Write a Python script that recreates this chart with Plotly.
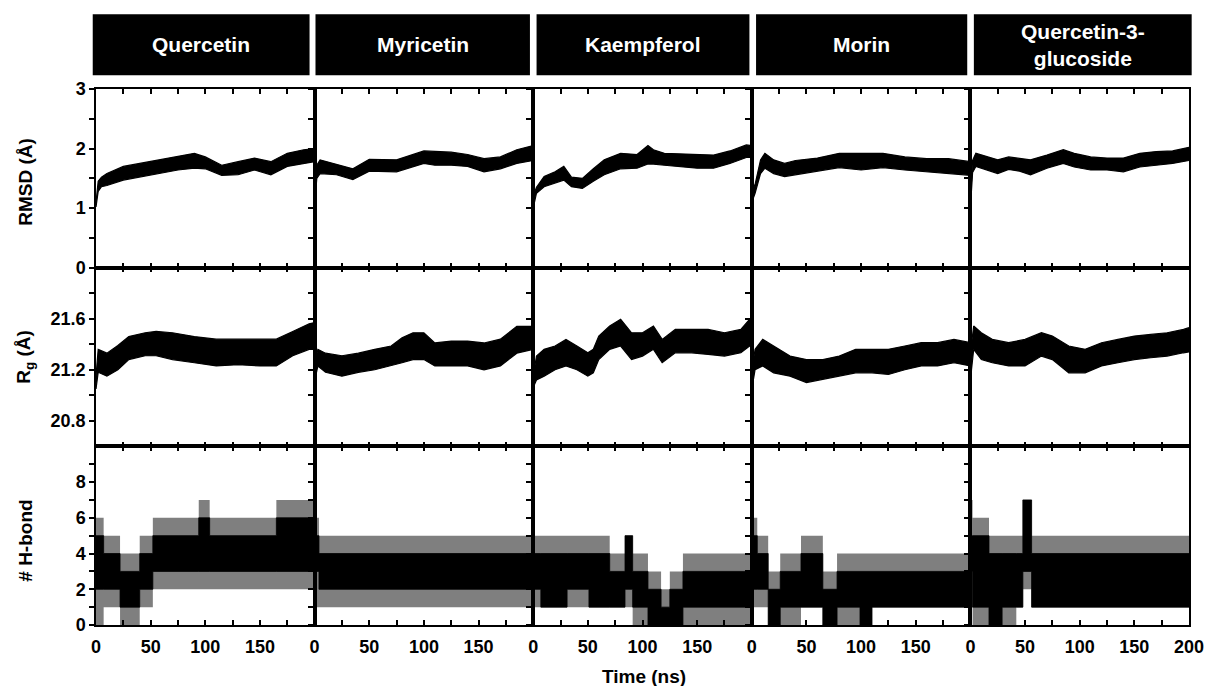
import plotly.graph_objects as go
from plotly.subplots import make_subplots

# ---------------- data ----------------
COMPOUNDS = ["Quercetin", "Myricetin", "Kaempferol", "Morin", "Quercetin-3-<br>glucoside"]

# RMSD (Å): time (ns), lower and upper edge of the fluctuating trace
QUE_RMSD_T = [0, 1, 2, 5, 10, 25, 50, 75, 90, 100, 115, 130, 145, 160, 175, 190, 200]
QUE_RMSD_LO = [1.02, 1.20, 1.28, 1.36, 1.38, 1.47, 1.56, 1.64, 1.67, 1.66, 1.55, 1.56, 1.64, 1.56, 1.70, 1.75, 1.78]
QUE_RMSD_HI = [1.10, 1.35, 1.45, 1.52, 1.58, 1.70, 1.78, 1.86, 1.92, 1.86, 1.72, 1.78, 1.84, 1.78, 1.92, 1.98, 2.00]

MYR_RMSD_T = [0, 1, 2, 5, 20, 35, 50, 75, 100, 110, 125, 140, 155, 170, 185, 200]
MYR_RMSD_LO = [1.05, 1.30, 1.50, 1.58, 1.56, 1.48, 1.62, 1.61, 1.75, 1.72, 1.72, 1.70, 1.61, 1.66, 1.75, 1.80]
MYR_RMSD_HI = [1.15, 1.50, 1.72, 1.81, 1.74, 1.66, 1.82, 1.81, 1.96, 1.95, 1.94, 1.90, 1.83, 1.86, 1.98, 2.05]

KAE_RMSD_T = [0, 1, 3, 10, 20, 28, 35, 45, 55, 65, 80, 95, 105, 110, 120, 135, 150, 165, 180, 195, 200]
KAE_RMSD_LO = [1.00, 1.10, 1.25, 1.36, 1.42, 1.47, 1.36, 1.33, 1.45, 1.56, 1.66, 1.67, 1.74, 1.74, 1.72, 1.70, 1.67, 1.67, 1.75, 1.85, 1.85]
KAE_RMSD_HI = [1.05, 1.25, 1.35, 1.53, 1.61, 1.70, 1.52, 1.50, 1.66, 1.81, 1.92, 1.90, 2.05, 1.98, 1.92, 1.91, 1.89, 1.89, 1.96, 2.06, 2.05]

MOR_RMSD_T = [0, 1, 3, 8, 12, 20, 30, 40, 60, 80, 100, 120, 140, 160, 180, 200]
MOR_RMSD_LO = [1.00, 1.15, 1.25, 1.58, 1.67, 1.58, 1.53, 1.56, 1.61, 1.68, 1.64, 1.68, 1.64, 1.61, 1.58, 1.55]
MOR_RMSD_HI = [1.05, 1.30, 1.40, 1.81, 1.92, 1.81, 1.75, 1.80, 1.84, 1.92, 1.92, 1.92, 1.86, 1.83, 1.83, 1.78]

Q3G_RMSD_T = [0, 1, 2, 5, 15, 25, 35, 45, 55, 70, 85, 95, 110, 125, 140, 155, 170, 185, 200]
Q3G_RMSD_LO = [1.00, 1.35, 1.60, 1.70, 1.64, 1.58, 1.65, 1.62, 1.56, 1.67, 1.75, 1.69, 1.64, 1.64, 1.61, 1.69, 1.72, 1.75, 1.80]
Q3G_RMSD_HI = [1.10, 1.55, 1.80, 1.92, 1.86, 1.81, 1.86, 1.84, 1.81, 1.89, 1.98, 1.92, 1.86, 1.84, 1.84, 1.92, 1.95, 1.96, 2.02]

# Radius of gyration (Å)
QUE_RG_T = [0, 1, 2, 10, 20, 30, 45, 55, 70, 90, 110, 130, 150, 165, 180, 195, 200]
QUE_RG_LO = [21.05, 21.12, 21.18, 21.15, 21.20, 21.28, 21.31, 21.31, 21.28, 21.255, 21.23, 21.24, 21.23, 21.23, 21.31, 21.36, 21.36]
QUE_RG_HI = [21.15, 21.30, 21.36, 21.33, 21.39, 21.46, 21.49, 21.50, 21.49, 21.46, 21.44, 21.44, 21.44, 21.44, 21.50, 21.56, 21.57]

MYR_RG_T = [0, 1, 3, 10, 25, 40, 55, 70, 80, 90, 100, 110, 125, 140, 155, 170, 185, 200]
MYR_RG_LO = [21.05, 21.15, 21.23, 21.18, 21.15, 21.18, 21.20, 21.23, 21.255, 21.28, 21.28, 21.23, 21.23, 21.23, 21.20, 21.23, 21.33, 21.36]
MYR_RG_HI = [21.12, 21.28, 21.36, 21.33, 21.31, 21.33, 21.36, 21.386, 21.45, 21.49, 21.49, 21.41, 21.425, 21.425, 21.41, 21.44, 21.54, 21.54]

KAE_RG_T = [0, 1, 3, 10, 20, 30, 40, 50, 55, 60, 70, 80, 90, 100, 110, 118, 130, 145, 160, 175, 190, 198, 200]
KAE_RG_LO = [21.00, 21.08, 21.12, 21.15, 21.20, 21.23, 21.20, 21.15, 21.176, 21.28, 21.36, 21.386, 21.28, 21.307, 21.36, 21.255, 21.333, 21.333, 21.32, 21.307, 21.333, 21.386, 21.38]
KAE_RG_HI = [21.05, 21.20, 21.307, 21.36, 21.386, 21.438, 21.386, 21.333, 21.36, 21.464, 21.543, 21.595, 21.49, 21.49, 21.543, 21.438, 21.516, 21.516, 21.516, 21.49, 21.516, 21.595, 21.60]

MOR_RG_T = [0, 1, 3, 10, 20, 35, 50, 65, 80, 95, 110, 125, 140, 155, 170, 185, 200]
MOR_RG_LO = [21.00, 21.10, 21.20, 21.23, 21.176, 21.15, 21.10, 21.124, 21.15, 21.176, 21.176, 21.163, 21.20, 21.23, 21.23, 21.255, 21.23]
MOR_RG_HI = [21.05, 21.25, 21.36, 21.438, 21.386, 21.307, 21.28, 21.28, 21.307, 21.36, 21.36, 21.36, 21.386, 21.412, 21.412, 21.438, 21.412]

Q3G_RG_T = [0, 1, 3, 10, 20, 35, 50, 65, 75, 90, 105, 120, 135, 150, 165, 180, 195, 200]
Q3G_RG_LO = [21.00, 21.20, 21.36, 21.28, 21.255, 21.23, 21.23, 21.307, 21.28, 21.176, 21.176, 21.23, 21.255, 21.28, 21.294, 21.307, 21.333, 21.34]
Q3G_RG_HI = [21.10, 21.40, 21.543, 21.49, 21.438, 21.412, 21.438, 21.49, 21.464, 21.386, 21.36, 21.412, 21.438, 21.464, 21.477, 21.49, 21.516, 21.53]

# Number of H-bonds: segment start times, dense (core) range and frequent-spike (outer) range
QUE_HB_T = [0, 7, 22, 40, 52, 94, 104, 165, 200]
QUE_HB_CORE_LO = [2, 2, 1, 2, 3, 3, 3, 3, 3]
QUE_HB_CORE_HI = [5, 4, 3, 4, 5, 6, 5, 6, 6]
QUE_HB_OUT_LO = [0, 1, 0, 1, 2, 2, 2, 2, 2]
QUE_HB_OUT_HI = [6, 5, 4, 5, 6, 7, 6, 7, 7]

MYR_HB_T = [0, 4, 200]
MYR_HB_CORE_LO = [3, 2, 2]
MYR_HB_CORE_HI = [5, 4, 4]
MYR_HB_OUT_LO = [1, 1, 1]
MYR_HB_OUT_HI = [6, 5, 5]

KAE_HB_T = [0, 7, 31, 51, 70, 84, 91, 105, 117, 125, 137, 200]
KAE_HB_CORE_LO = [2, 1, 2, 1, 1, 2, 1, 0, 0, 0, 1, 1]
KAE_HB_CORE_HI = [4, 4, 4, 4, 3, 5, 3, 2, 1, 2, 3, 3]
KAE_HB_OUT_LO = [1, 1, 1, 1, 1, 1, 0, 0, 0, 0, 0, 0]
KAE_HB_OUT_HI = [5, 5, 5, 5, 4, 5, 4, 3, 2, 3, 4, 4]

MOR_HB_T = [0, 5, 15, 26, 45, 65, 78, 99, 110, 200]
MOR_HB_CORE_LO = [2, 2, 0, 1, 1, 0, 1, 0, 1, 1]
MOR_HB_CORE_HI = [5, 4, 2, 3, 4, 2, 3, 3, 3, 3]
MOR_HB_OUT_LO = [1, 1, 0, 0, 1, 0, 0, 0, 1, 1]
MOR_HB_OUT_HI = [6, 5, 3, 4, 5, 3, 4, 4, 4, 4]

Q3G_HB_T = [0, 2, 17, 29, 42, 48, 56, 200]
Q3G_HB_CORE_LO = [3, 1, 0, 1, 1, 3, 1, 1]
Q3G_HB_CORE_HI = [5, 5, 4, 4, 4, 7, 4, 4]
Q3G_HB_OUT_LO = [1, 0, 0, 0, 1, 2, 1, 1]
Q3G_HB_OUT_HI = [7, 6, 5, 5, 5, 7, 5, 5]

RMSD_TICKS = [0, 1, 2, 3]
RG_TICKS = [20.8, 21.2, 21.6]
HB_TICKS = [0, 2, 4, 6, 8]
TIME_TICKS = [0, 50, 100, 150, 200]

# ---------------- assemble ----------------
RMSD = [(QUE_RMSD_T, QUE_RMSD_LO, QUE_RMSD_HI), (MYR_RMSD_T, MYR_RMSD_LO, MYR_RMSD_HI),
        (KAE_RMSD_T, KAE_RMSD_LO, KAE_RMSD_HI), (MOR_RMSD_T, MOR_RMSD_LO, MOR_RMSD_HI),
        (Q3G_RMSD_T, Q3G_RMSD_LO, Q3G_RMSD_HI)]
RG = [(QUE_RG_T, QUE_RG_LO, QUE_RG_HI), (MYR_RG_T, MYR_RG_LO, MYR_RG_HI),
      (KAE_RG_T, KAE_RG_LO, KAE_RG_HI), (MOR_RG_T, MOR_RG_LO, MOR_RG_HI),
      (Q3G_RG_T, Q3G_RG_LO, Q3G_RG_HI)]
HB = [(QUE_HB_T, QUE_HB_CORE_LO, QUE_HB_CORE_HI, QUE_HB_OUT_LO, QUE_HB_OUT_HI),
      (MYR_HB_T, MYR_HB_CORE_LO, MYR_HB_CORE_HI, MYR_HB_OUT_LO, MYR_HB_OUT_HI),
      (KAE_HB_T, KAE_HB_CORE_LO, KAE_HB_CORE_HI, KAE_HB_OUT_LO, KAE_HB_OUT_HI),
      (MOR_HB_T, MOR_HB_CORE_LO, MOR_HB_CORE_HI, MOR_HB_OUT_LO, MOR_HB_OUT_HI),
      (Q3G_HB_T, Q3G_HB_CORE_LO, Q3G_HB_CORE_HI, Q3G_HB_OUT_LO, Q3G_HB_OUT_HI)]

FONT = "Liberation Sans, Arial, sans-serif"
OFF = 8                      # page body margin of the html page
W, H = 1216 - OFF, 686 - OFF
ML, MR, MT, MB = 96 - OFF, 16, 89 - OFF, 61
PW, PH = W - ML - MR, H - MT - MB

fig = make_subplots(rows=3, cols=5, horizontal_spacing=0, vertical_spacing=0)


def band(t, lo, hi, row, col, fillcolor, shape="linear", edge=0.8):
    fig.add_trace(go.Scatter(x=t, y=lo, mode="lines", line=dict(color="black", width=edge, shape=shape),
                             showlegend=False, hoverinfo="skip"), row=row, col=col)
    fig.add_trace(go.Scatter(x=t, y=hi, mode="lines", line=dict(color="black", width=edge, shape=shape),
                             fill="tonexty", fillcolor=fillcolor, showlegend=False, hoverinfo="skip"),
                  row=row, col=col)


for c in range(5):
    t, lo, hi = RMSD[c]
    band(t, lo, hi, 1, c + 1, "black", edge=1.2)
    t, lo, hi = RG[c]
    band(t, lo, hi, 2, c + 1, "black", edge=1.2)
    t, clo, chi, olo, ohi = HB[c]
    band(t, olo, ohi, 3, c + 1, "rgba(0,0,0,0.5)", shape="hv", edge=0)
    band(t, clo, chi, 3, c + 1, "black", shape="hv", edge=0.8)

tickfont = dict(family=FONT, size=18, color="black", weight="bold")
common = dict(showline=True, linecolor="black", linewidth=1.5, showgrid=False, zeroline=False,
              tickcolor="black", tickwidth=1.5, tickfont=tickfont)

for r in range(1, 4):
    for c in range(1, 6):
        tv_x = TIME_TICKS if c == 5 else TIME_TICKS[:-1]
        fig.update_xaxes(range=[0, 200], mirror="ticks", ticks="inside", ticklen=5,
                         tickvals=tv_x, ticktext=[str(v) for v in tv_x], showticklabels=(r == 3),
                         ticklabelstandoff=5,
                         minor=dict(tickvals=[25, 75, 125, 175], ticks="inside", ticklen=5,
                                    tickwidth=1.5, tickcolor="black", showgrid=False),
                         row=r, col=c, **common)
        if r == 1:
            yr, tv, mt = [0, 3], RMSD_TICKS, [0.5, 1.5, 2.5]
        elif r == 2:
            yr, tv, mt = [20.6, 22.0], RG_TICKS, [21.0, 21.4, 21.8]
        else:
            yr, tv, mt = [0, 10], HB_TICKS, [1, 3, 5, 7, 9]
        fig.update_yaxes(range=yr, mirror=True, ticks="outside", ticklen=5, tickvals=tv,
                         ticktext=[("%g" % v) for v in tv], showticklabels=(c == 1),
                         minor=dict(tickvals=mt, ticks="outside", ticklen=5, tickwidth=1.5,
                                    tickcolor="black", showgrid=False),
                         row=r, col=c, **common)


def px2x(px):
    return (px - OFF - ML) / PW


def px2y(py):
    return (MT + PH - (py - OFF)) / PH


# header boxes
BOX_X = [(92.7, 311.7), (317.7, 534.3), (541, 756), (762.7, 976), (982.7, 1202.7)]
BOX_Y = (14.3, 75.3)
for (x0, x1), name in zip(BOX_X, COMPOUNDS):
    fig.add_shape(type="rect", xref="paper", yref="paper", x0=px2x(x0), x1=px2x(x1),
                  y0=px2y(BOX_Y[1]), y1=px2y(BOX_Y[0]), fillcolor="black", line=dict(width=0), layer="above")
    fig.add_annotation(xref="paper", yref="paper", x=px2x((x0 + x1) / 2), y=px2y(sum(BOX_Y) / 2),
                       text=name, showarrow=False, xanchor="center", yanchor="middle",
                       font=dict(family=FONT, size=21, color="white", weight="bold"))

# axis titles
YT = [("RMSD (Å)", 182), ("R<sub>g</sub> (Å)", 357), ("# H-bond", 541)]
for txt, py in YT:
    fig.add_annotation(xref="paper", yref="paper", x=px2x(24), y=px2y(py), text=txt, textangle=-90,
                       showarrow=False, xanchor="center", yanchor="middle",
                       font=dict(family=FONT, size=19, color="black", weight="bold"))
fig.add_annotation(xref="paper", yref="paper", x=px2x(650), y=px2y(676), text="Time (ns)",
                   showarrow=False, xanchor="center", yanchor="middle",
                   font=dict(family=FONT, size=19, color="black", weight="bold"))

fig.update_layout(width=W, height=H, margin=dict(l=ML, r=MR, t=MT, b=MB),
                  plot_bgcolor="white", paper_bgcolor="white", showlegend=False)

fig.write_html("out.html")
